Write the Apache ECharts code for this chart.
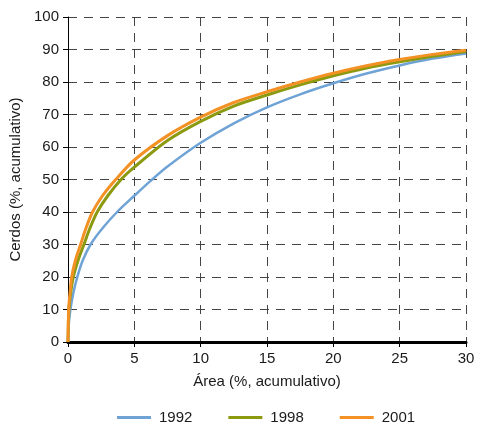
<!DOCTYPE html>
<html>
<head>
<meta charset="utf-8">
<script src="https://cdn.jsdelivr.net/npm/echarts@6/dist/echarts.min.js"></script>
<style>html,body{margin:0;padding:0;background:#fff}#c{width:487px;height:423px}</style>
</head>
<body>
<div id="c"></div>
<script>
const seriesNames = ['1992', '1998', '2001'];
const colors = ['#6fa3d6', '#8c9a10', '#f39124'];

const x1992 = [0, 0.05, 0.18, 0.4, 0.7, 1.1, 1.7, 2.6, 3.7, 5, 6.2, 7.5, 10, 12.5, 15, 17.5, 20, 22.5, 25, 27.5, 30];
const y1992 = [0, 5, 10, 15, 20, 25, 30, 35, 40, 45, 49.5, 54, 61.3, 67.3, 72.2, 76.2, 79.6, 82.6, 85.1, 87.2, 88.8];

const x1998 = [0, 0.07, 0.2, 0.4, 0.75, 1.2, 1.65, 2.2, 3.0, 4.0, 5, 7.5, 10, 12.5, 15, 17.5, 20, 22.5, 25, 27.5, 30];
const y1998 = [0, 10, 15, 20, 25, 30, 35, 40, 45, 50, 53.8, 62.0, 67.9, 72.6, 76.0, 79.1, 81.9, 84.3, 86.2, 87.9, 89.4];

const x2001 = [0, 0.05, 0.15, 0.28, 0.55, 0.95, 1.35, 1.85, 2.6, 3.6, 5, 7.5, 10, 12.5, 15, 17.5, 20, 22.5, 25, 27.5, 30];
const y2001 = [0, 10, 15, 20, 25, 30, 35, 40, 45, 50, 56, 63.5, 69.2, 73.7, 77.0, 80.0, 82.7, 85.0, 86.9, 88.5, 89.8];

const xTicks = [0, 5, 10, 15, 20, 25, 30];
const yTicks = [0, 10, 20, 30, 40, 50, 60, 70, 80, 90, 100];

const xs = [x1992, x1998, x2001];
const ys = [y1992, y1998, y2001];

const font = 'Liberation Sans, Arial, sans-serif';
const gridLine = {show: true, lineStyle: {color: '#444', width: 1, type: [9, 7]}};

const chart = echarts.init(document.getElementById('c'), null, {renderer: 'canvas'});
chart.setOption({
  animation: false,
  backgroundColor: '#fff',
  grid: {left: 68, right: 21, top: 17, bottom: 81, containLabel: false},
  legend: {
    data: seriesNames,
    left: 112, top: 405,
    icon: 'rect', itemWidth: 34, itemHeight: 3, itemGap: 36,
    textStyle: {fontFamily: font, fontSize: 15, color: '#1a1a1a', padding: [0, 0, 0, 3]}
  },
  xAxis: {
    type: 'value', min: xTicks[0], max: xTicks[xTicks.length - 1], interval: 5,
    name: 'Área (%, acumulativo)', nameLocation: 'middle', nameGap: 32,
    nameTextStyle: {fontFamily: font, fontSize: 15, color: '#1a1a1a'},
    axisLine: {show: true, onZero: false, lineStyle: {color: '#000', width: 3}},
    axisTick: {show: true, length: 5, lineStyle: {color: '#000', width: 1}},
    axisLabel: {fontFamily: font, fontSize: 15, color: '#1a1a1a', margin: 9},
    splitLine: gridLine
  },
  yAxis: {
    type: 'value', min: yTicks[0], max: yTicks[yTicks.length - 1], interval: 10,
    name: 'Cerdos (%, acumulativo)', nameLocation: 'middle', nameGap: 38,
    nameTextStyle: {fontFamily: font, fontSize: 15, color: '#1a1a1a'},
    axisLine: {show: true, lineStyle: {color: '#000', width: 1}},
    axisTick: {show: true, length: 5, lineStyle: {color: '#000', width: 1}},
    axisLabel: {fontFamily: font, fontSize: 15, color: '#1a1a1a', margin: 9},
    splitLine: gridLine
  },
  series: seriesNames.map((n, i) => ({
    name: n, type: 'line', smooth: 0.3, showSymbol: false, symbol: 'none',
    color: colors[i],
    lineStyle: {color: colors[i], width: i === 0 ? 2.5 : 3},
    data: xs[i].map((x, k) => [x, ys[i][k]]),
    z: 2 + i
  }))
});
</script>
</body>
</html>
